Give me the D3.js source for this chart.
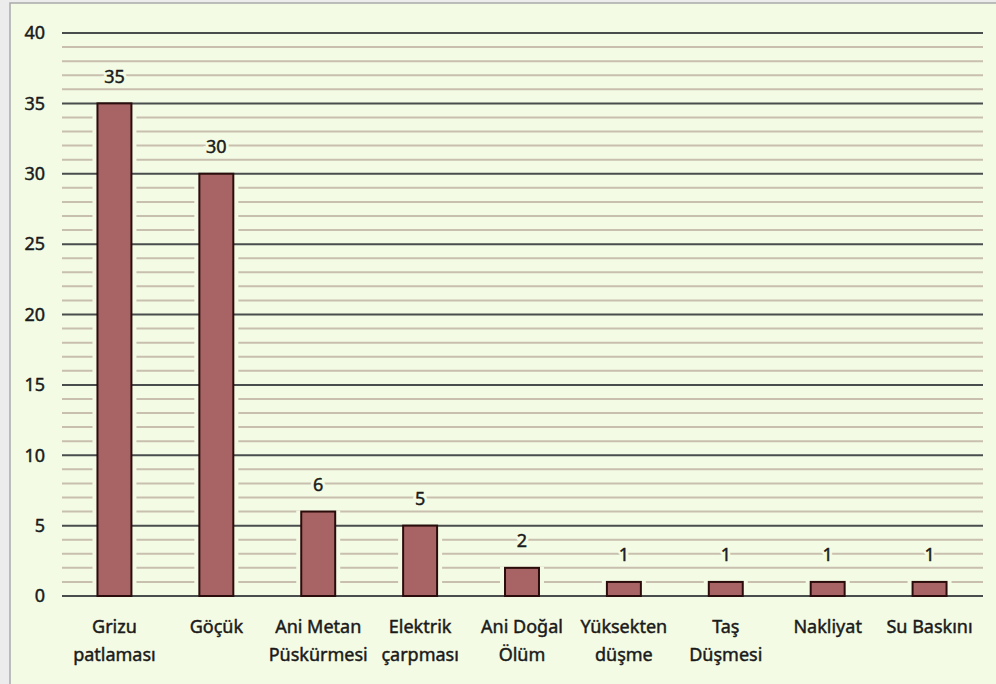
<!DOCTYPE html>
<html>
<head>
<meta charset="utf-8">
<script src="https://cdn.jsdelivr.net/npm/d3@7"></script>
<style>
  html, body { margin: 0; padding: 0; background: #ececec; }
  svg { display: block; }
  text { font-family: "Noto Sans", "DejaVu Sans", sans-serif; fill: #1a1a1a; }
  .ink { stroke: #1a1a1a; stroke-width: 0.45px; }
</style>
</head>
<body>
<svg id="chart" width="996" height="684"></svg>
<script>
// Kaza türleri ve ölüm sayıları
const categories = [
  ["Grizu", "patlaması"],
  ["Göçük"],
  ["Ani Metan", "Püskürmesi"],
  ["Elektrik", "çarpması"],
  ["Ani Doğal", "Ölüm"],
  ["Yüksekten", "düşme"],
  ["Taş", "Düşmesi"],
  ["Nakliyat"],
  ["Su Baskını"]
];
const values = [35, 30, 6, 5, 2, 1, 1, 1, 1];
const yTicks = [0, 5, 10, 15, 20, 25, 30, 35, 40];
const minorTicks = d3.range(0, 41, 1);

const bg = "#f3fbe4";
const svg = d3.select("#chart");

// panel
svg.append("rect").attr("x", 10).attr("y", 3).attr("width", 996).attr("height", 690)
  .attr("fill", bg).attr("stroke", "#a9a9a9").attr("stroke-width", 1.5);

const gridLeft = 62, gridRight = 983, plotTop = 33, plotBottom = 596;
const keys = categories.map((c, i) => i);

const x = d3.scaleBand().domain(keys).range([63.5, 980.5]).paddingInner(2 / 3).paddingOuter(1 / 3);
const y = d3.scaleLinear().domain([0, 40]).range([plotBottom, plotTop]);

// minor grid
svg.append("g").selectAll("line").data(minorTicks.filter(t => t % 5 !== 0)).join("line")
  .attr("x1", gridLeft).attr("x2", gridRight)
  .attr("y1", d => y(d)).attr("y2", d => y(d))
  .attr("stroke", "#c9bfae").attr("stroke-width", 2);

// clearance around the bars for the minor grid
svg.append("g").selectAll("rect").data(values).join("rect")
  .attr("x", (d, i) => x(i) - 5)
  .attr("width", x.bandwidth() + 10)
  .attr("y", d => y(d) - 1)
  .attr("height", d => y(0) - y(d) + 1)
  .attr("fill", bg);

// major grid
svg.append("g").selectAll("line").data(yTicks).join("line")
  .attr("x1", gridLeft).attr("x2", gridRight)
  .attr("y1", d => y(d)).attr("y2", d => y(d))
  .attr("stroke", "#4a4d4d").attr("stroke-width", 2);

// y axis labels
const yAxis = d3.axisLeft(y).tickValues(yTicks).tickSize(0).tickPadding(0);
const gy = svg.append("g").attr("transform", "translate(45,0)").call(yAxis);
gy.select(".domain").remove();
gy.selectAll("text").attr("font-size", 18).attr("fill", "#1a1a1a").attr("class", "ink")
  .attr("font-family", "Noto Sans, DejaVu Sans, sans-serif").attr("dy", "0.32em");

// bars
svg.append("g").selectAll("rect").data(values).join("rect")
  .attr("x", (d, i) => x(i))
  .attr("width", x.bandwidth())
  .attr("y", d => y(d))
  .attr("height", d => y(0) - y(d))
  .attr("fill", "#a86465")
  .attr("stroke", "#2a0c0c").attr("stroke-width", 2);

// value labels: halo first, then ink
const labels = svg.append("g");
["halo", "ink"].forEach(kind => {
  labels.append("g").selectAll("text").data(values).join("text")
    .attr("class", kind === "ink" ? "ink" : null)
    .attr("x", (d, i) => x(i) + x.bandwidth() / 2)
    .attr("y", d => y(d) - 27)
    .attr("dy", "0.35em")
    .attr("text-anchor", "middle")
    .attr("font-size", 18)
    .attr("fill", kind === "ink" ? "#1a1a1a" : bg)
    .attr("stroke", kind === "ink" ? "#1a1a1a" : bg)
    .attr("stroke-width", kind === "ink" ? 0.45 : 6)
    .text(d => d);
});

// category labels
const cat = svg.append("g").selectAll("text").data(categories).join("text")
  .attr("class", "ink")
  .attr("x", (d, i) => x(i) + x.bandwidth() / 2)
  .attr("y", 633)
  .attr("text-anchor", "middle")
  .attr("font-size", 18);
cat.selectAll("tspan").data(d => d).join("tspan")
  .attr("x", function() { return this.parentNode.getAttribute("x"); })
  .attr("dy", (d, j) => j === 0 ? 0 : 28)
  .text(d => d);
</script>
</body>
</html>
